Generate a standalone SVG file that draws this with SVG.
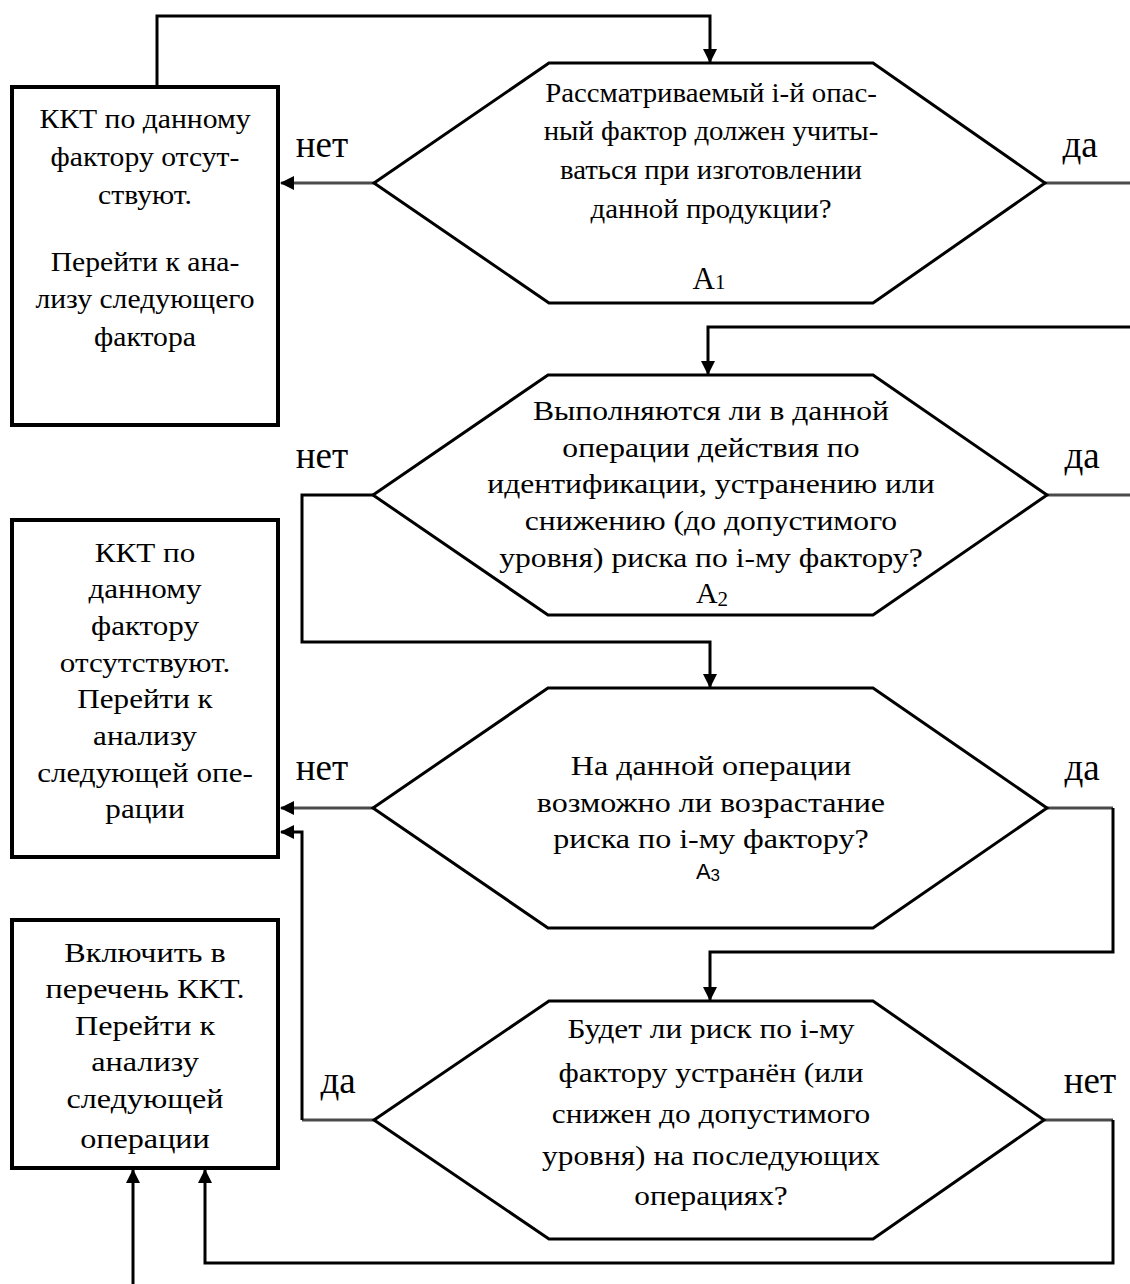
<svg xmlns="http://www.w3.org/2000/svg" width="1130" height="1284" viewBox="0 0 1130 1284">
<style>
.shape{fill:#fff;stroke:#000;stroke-width:4}
.hex{fill:#fff;stroke:#000;stroke-width:3}
.t{font-family:"Liberation Serif","Times New Roman",serif;font-size:28px;fill:#000;text-anchor:middle}
.lbl{font-family:"Liberation Serif","Times New Roman",serif;font-size:37px;fill:#000;text-anchor:middle}
.sans{font-family:"Liberation Sans","Open Sans",sans-serif}
.c{fill:none;stroke:#000;stroke-width:3}
.cg{fill:none;stroke:#4a4a4a;stroke-width:3}
</style>
<defs>
<marker id="ah" viewBox="0 0 14 14" refX="13" refY="7" markerWidth="14" markerHeight="14" orient="auto" markerUnits="userSpaceOnUse"><path d="M0,0 L14,7 L0,14 z" fill="#000"/></marker>
</defs>

<g id="connectors">
<path class="c" d="M157,87 V16 H710 V62" marker-end="url(#ah)"/>
<path class="cg" d="M374,183 H281" marker-end="url(#ah)"/>
<path class="cg" d="M1045,183 H1130"/>
<path class="c" d="M1130,327 H708 V374" marker-end="url(#ah)"/>
<path class="cg" d="M1047,495 H1130"/>
<path class="c" d="M373,495 H302 V642 H710 V687" marker-end="url(#ah)"/>
<path class="cg" d="M373,808 H281" marker-end="url(#ah)"/>
<path class="cg" d="M1047,808 H1113"/>
<path class="c" d="M1113,808 V952 H710 V1000" marker-end="url(#ah)"/>
<path class="cg" d="M374,1120 H302"/>
<path class="c" d="M302,1120 V832 H281" marker-end="url(#ah)"/>
<path class="cg" d="M1044,1120 H1113"/>
<path class="c" d="M1113,1120 V1263 H205 V1170" marker-end="url(#ah)"/>
<path class="c" d="M133,1284 V1170" marker-end="url(#ah)"/>
</g>

<g id="labels">
<text class="lbl" x="322" y="157">нет</text>
<text class="lbl" x="1080" y="157">да</text>
<text class="lbl" x="322" y="468">нет</text>
<text class="lbl" x="1082" y="468">да</text>
<text class="lbl" x="322" y="780">нет</text>
<text class="lbl" x="1082" y="780">да</text>
<text class="lbl" x="338" y="1093">да</text>
<text class="lbl" x="1090" y="1093">нет</text>
</g>

<g id="box1">
<rect class="shape" x="12" y="87" width="266" height="338"/>
<g transform="matrix(1.06 0 0 1 -8.7 0)">
<text class="t" x="145" y="128">ККТ по данному</text>
<text class="t" x="145" y="166">фактору отсут-</text>
<text class="t" x="145" y="204">ствуют.</text>
<text class="t" x="145" y="271">Перейти к ана-</text>
<text class="t" x="145" y="308">лизу следующего</text>
<text class="t" x="145" y="346">фактора</text>
</g>
</g>

<g id="hex1">
<polygon class="hex" points="549,63 873,63 1045,183 873,303 549,303 374,183"/>
<g transform="matrix(1.03 0 0 1 -21.33 0)">
<text class="t" x="711" y="102">Рассматриваемый i-й опас-</text>
<text class="t" x="711" y="140">ный фактор должен учиты-</text>
<text class="t" x="711" y="179">ваться при изготовлении</text>
<text class="t" x="711" y="218">данной продукции?</text>
</g>
<text class="t" x="709" y="289" style="font-size:31px">A<tspan style="font-size:21px">1</tspan></text>
</g>

<g id="hex2">
<polygon class="hex" points="548,375 873,375 1047,495 873,615 548,615 373,495"/>
<g transform="matrix(1.13 0 0 1 -92.43 0)">
<text class="t" x="711" y="420">Выполняются ли в данной</text>
<text class="t" x="711" y="457">операции действия по</text>
<text class="t" x="711" y="493">идентификации, устранению или</text>
<text class="t" x="711" y="530">снижению (до допустимого</text>
<text class="t" x="711" y="567">уровня) риска по i-му фактору?</text>
</g>
<text class="t" x="712" y="603" style="font-size:30px">A<tspan style="font-size:21px" dy="3">2</tspan></text>
</g>

<g id="box2">
<rect class="shape" x="12" y="520" width="266" height="337"/>
<g transform="matrix(1.11 0 0 1 -15.95 0)">
<text class="t" x="145" y="562">ККТ по</text>
<text class="t" x="145" y="598">данному</text>
<text class="t" x="145" y="635">фактору</text>
<text class="t" x="145" y="672">отсутствуют.</text>
<text class="t" x="145" y="708">Перейти к</text>
<text class="t" x="145" y="745">анализу</text>
<text class="t" x="145" y="782">следующей опе-</text>
<text class="t" x="145" y="818">рации</text>
</g>
</g>

<g id="hex3">
<polygon class="hex" points="548,688 873,688 1047,808 873,928 548,928 373,808"/>
<g transform="matrix(1.145 0 0 1 -103.1 0)">
<text class="t" x="711" y="775">На данной операции</text>
<text class="t" x="711" y="812">возможно ли возрастание</text>
<text class="t" x="711" y="848">риска по i-му фактору?</text>
</g>
<text class="t sans" x="708" y="879" style="font-size:22px">A<tspan style="font-size:17px" dy="2">3</tspan></text>
</g>

<g id="box3">
<rect class="shape" x="12" y="920" width="266" height="248"/>
<g transform="matrix(1.15 0 0 1 -21.75 0)">
<text class="t" x="145" y="962">Включить в</text>
<text class="t" x="145" y="998">перечень ККТ.</text>
<text class="t" x="145" y="1035">Перейти к</text>
<text class="t" x="145" y="1071">анализу</text>
<text class="t" x="145" y="1108">следующей</text>
<text class="t" x="145" y="1148">операции</text>
</g>
</g>

<g id="hex4">
<polygon class="hex" points="549,1001 873,1001 1044,1120 873,1239 549,1239 374,1120"/>
<g transform="matrix(1.12 0 0 1 -85.32 0)">
<text class="t" x="711" y="1038">Будет ли риск по  i-му</text>
<text class="t" x="711" y="1082">фактору устранён (или</text>
<text class="t" x="711" y="1123">снижен до допустимого</text>
<text class="t" x="711" y="1165">уровня) на последующих</text>
<text class="t" x="711" y="1205">операциях?</text>
</g>
</g>
</svg>
